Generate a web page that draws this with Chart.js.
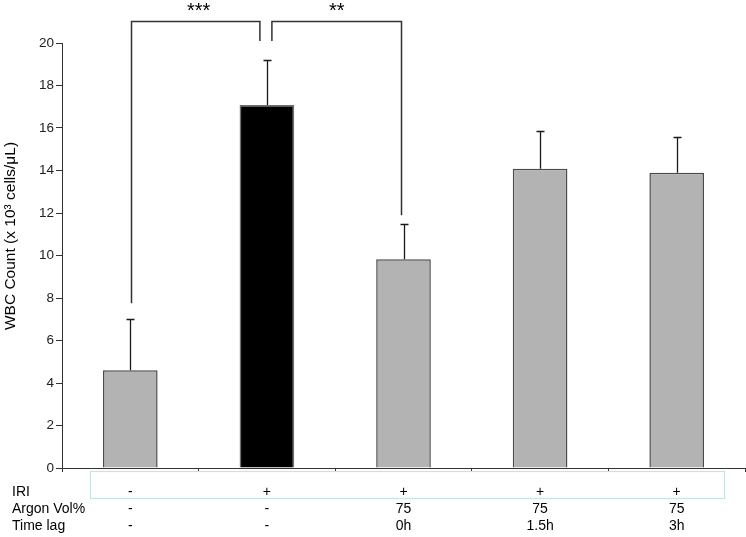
<!DOCTYPE html>
<html>
<head>
<meta charset="utf-8">
<script src="https://cdn.jsdelivr.net/npm/chart.js@4.4.1/dist/chart.umd.min.js"></script>
<style>
html,body{margin:0;padding:0;background:#fff;}
#wrap{width:746px;height:537px;}
</style>
</head>
<body>
<div id="wrap"><canvas id="c" width="746" height="537"></canvas></div>
<script>
// ---- Data ----
const categories = ['Sham', 'IRI', 'IRI + Ar 0h', 'IRI + Ar 1.5h', 'IRI + Ar 3h'];
const wbcMeans = [4.6, 17.08, 9.82, 14.08, 13.9];
const wbcErrors = [2.4, 2.13, 1.65, 1.78, 1.66];
const yTickMax = 20;
const yTickStep = 2;
const yTitle = 'WBC Count (x 10\u00B3 cells/\u03BCL)';
const rowLabels = ['IRI', 'Argon Vol%', 'Time lag'];
const rowIRI = ['-', '+', '+', '+', '+'];
const rowArgon = ['-', '-', '75', '75', '75'];
const rowTimeLag = ['-', '-', '0h', '1.5h', '3h'];
const sigFrom = [0, 2];          // bracket outer end (category index)
const sigTo = [1, 1];            // bracket inner end (category index)
const sigOuterY = [7.75, 11.9];  // value where outer leg ends
const sigLabels = ['***', '**'];

const FONT = '"Liberation Sans", Arial, sans-serif';

const barColors = categories.map((c, i) => i === 1 ? '#000000' : '#b3b3b3');
const barBorders = categories.map((c, i) => i === 1 ? '#6e6e6e' : '#4a4a4a');

const errorBarPlugin = {
  id: 'errorBars',
  afterDatasetsDraw(chart) {
    const ctx = chart.ctx;
    const meta = chart.getDatasetMeta(0);
    const ys = chart.scales.y;
    ctx.save();
    ctx.strokeStyle = '#1a1a1a';
    ctx.lineWidth = 1.3;
    meta.data.forEach((bar, i) => {
      const x = Math.round(bar.x) + 0.5;
      const y0 = ys.getPixelForValue(wbcMeans[i]);
      const y1 = Math.round(ys.getPixelForValue(wbcMeans[i] + wbcErrors[i])) + 0.5;
      ctx.beginPath();
      ctx.moveTo(x, y0);
      ctx.lineTo(x, y1);
      ctx.moveTo(x - 4, y1);
      ctx.lineTo(x + 4, y1);
      ctx.stroke();
    });
    ctx.restore();
  }
};

const extrasPlugin = {
  id: 'extras',
  afterDraw(chart) {
    const ctx = chart.ctx;
    const xs = chart.scales.x;
    const ys = chart.scales.y;
    ctx.save();
    // significance brackets
    const topPix = Math.round(ys.getPixelForValue(21.05)) + 0.5;
    const innerPix = ys.getPixelForValue(20.1);
    ctx.strokeStyle = '#333';
    ctx.lineWidth = 1.5;
    sigFrom.forEach((f, k) => {
      const xo = Math.round(xs.getPixelForValue(f)) + 0.5 + (f === 2 ? -3 : 1);
      const xi = xs.getPixelForValue(sigTo[k]) + (f < sigTo[k] ? -7 : 5);
      const yo = ys.getPixelForValue(sigOuterY[k]);
      ctx.beginPath();
      ctx.moveTo(xo, yo);
      ctx.lineTo(xo, topPix);
      ctx.lineTo(xi, topPix);
      ctx.lineTo(xi, innerPix);
      ctx.stroke();
      ctx.fillStyle = '#000';
      ctx.font = '20px ' + FONT;
      ctx.textAlign = 'center';
      ctx.textBaseline = 'middle';
      ctx.fillText(sigLabels[k], (xo + xi) / 2 + (k === 0 ? 3 : 0), 11);
    });
    // table box
    ctx.strokeStyle = '#c9e3e3';
    ctx.lineWidth = 1.2;
    ctx.strokeRect(90.5, 471.5, 634, 27);
    // table text
    ctx.fillStyle = '#000';
    ctx.font = '14px ' + FONT;
    ctx.textBaseline = 'middle';
    const rowY = [492, 509, 526];
    const rows = [rowIRI, rowArgon, rowTimeLag];
    rowLabels.forEach((lab, r) => {
      ctx.textAlign = 'left';
      ctx.fillText(lab, 12, rowY[r]);
      ctx.textAlign = 'center';
      rows[r].forEach((v, i) => {
        ctx.fillText(v, xs.getPixelForValue(i), rowY[r]);
      });
    });
    // y title
    ctx.save();
    ctx.translate(11, 236);
    ctx.rotate(-Math.PI / 2);
    ctx.textAlign = 'center';
    ctx.textBaseline = 'middle';
    ctx.font = '15.5px ' + FONT;
    ctx.fillText(yTitle, 0, 0);
    ctx.restore();
    ctx.restore();
  }
};

new Chart(document.getElementById('c'), {
  type: 'bar',
  data: {
    labels: categories,
    datasets: [{
      data: wbcMeans,
      backgroundColor: barColors,
      borderColor: barBorders,
      borderWidth: 1.5,
      barPercentage: 0.4,
      categoryPercentage: 1.0
    }]
  },
  options: {
    responsive: false,
    animation: false,
    layout: { padding: { top: 43, right: 1, left: 0, bottom: 0 } },
    plugins: { legend: { display: false }, tooltip: { enabled: false } },
    scales: {
      x: {
        afterFit(s) { s.height = 69; },
        grid: { display: true, drawOnChartArea: false, drawTicks: true, tickLength: 4, color: '#333', offset: true },
        border: { display: true, color: '#333', width: 1 },
        ticks: { display: false }
      },
      y: {
        min: 0,
        max: yTickMax,
        afterFit(s) { s.width = 62; },
        grid: { display: true, drawOnChartArea: false, drawTicks: true, tickLength: 6, color: '#333' },
        border: { display: true, color: '#333', width: 1 },
        ticks: { stepSize: yTickStep, color: '#222', padding: 2, font: { family: FONT, size: 13.5 } }
      }
    }
  },
  plugins: [errorBarPlugin, extrasPlugin]
});
</script>
</body>
</html>
